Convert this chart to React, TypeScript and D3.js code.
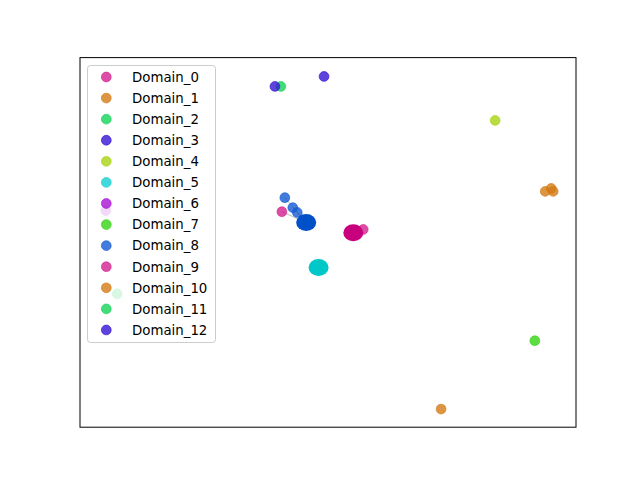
import React from "react";
import * as d3 from "d3";

const domains = ["Domain_0","Domain_1","Domain_2","Domain_3","Domain_4","Domain_5","Domain_6","Domain_7","Domain_8","Domain_9","Domain_10","Domain_11","Domain_12"];
const palette = ["#d3228f","#d37a14","#14d35a","#3614d3","#a9d314","#14cfd3","#a714d3","#36d314","#145bd3"];

// point data: [domainIndex, x, y]
const pointDomain = [6, 11, 8, 8, 8, 9, 0, 2, 12, 3, 4, 1, 1, 1, 7, 10];
const pointX = [5.2, 7.5, 41.3, 42.9, 43.8, 40.7, 57.1, 40.5, 39.3, 49.2, 83.7, 93.8, 95.0, 95.4, 91.7, 72.8];
const pointY = [58.6, 36.1, 62.1, 59.4, 58.1, 58.3, 53.5, 92.2, 92.2, 94.9, 83.0, 63.8, 64.6, 63.8, 23.4, 4.9];

// centroids (clusters)
const centroidColor = ["#0050c8","#00c8c8","#c8007e"];
const centroidX = [45.6, 48.1, 55.1];
const centroidY = [55.4, 43.2, 52.6];

// links from point index to centroid index
const linkFrom = [2, 3, 4, 5];
const linkTo = [0, 0, 0, 0];

const W = 640, H = 480;
const L = 80, R = 576, T = 57.6, B = 427.2;

export default function App() {
  const x = d3.scaleLinear().domain([0, 100]).range([L, R]);
  const y = d3.scaleLinear().domain([0, 100]).range([B, T]);
  const legendRowH = 21.08;
  return (
    <svg width={W} height={H} style={{ position: "absolute", left: 0, top: 0, background: "#fff" }} fontFamily="DejaVu Sans">
      <rect x={0} y={0} width={W} height={H} fill="#fff" />
      {linkFrom.map((f, i) => (
        <line key={"l" + i} x1={x(pointX[f])} y1={y(pointY[f])} x2={x(centroidX[linkTo[i]])} y2={y(centroidY[linkTo[i]])} stroke="#888" strokeOpacity={0.6} strokeWidth={1} />
      ))}
      {pointX.map((px, i) => (
        <circle key={"p" + i} cx={x(px)} cy={y(pointY[i])} r={4.9} fill={palette[pointDomain[i] % 9]} fillOpacity={0.8} stroke={palette[pointDomain[i] % 9]} strokeOpacity={0.8} strokeWidth={0.8} />
      ))}
      {centroidX.map((cx, i) => (
        <ellipse key={"c" + i} cx={x(cx)} cy={y(centroidY[i])} rx={10} ry={8.5} fill={centroidColor[i]} />
      ))}
      <rect x={L} y={T} width={R - L} height={B - T} fill="none" stroke="#000" strokeWidth={1} />
      <g>
        <rect x={87.5} y={65.5} width={128} height={277} rx={3} fill="#fff" fillOpacity={0.8} stroke="#cccccc" strokeWidth={1} />
        {domains.map((d, i) => (
          <g key={d} transform={`translate(0,${77 + i * legendRowH})`}>
            <circle cx={106.3} cy={0} r={4.9} fill={palette[i % 9]} fillOpacity={0.8} stroke={palette[i % 9]} strokeOpacity={0.8} strokeWidth={0.8} />
            <text x={132} y={0} dy="0.36em" fontSize={13.33} fill="#000">{d}</text>
          </g>
        ))}
      </g>
    </svg>
  );
}
